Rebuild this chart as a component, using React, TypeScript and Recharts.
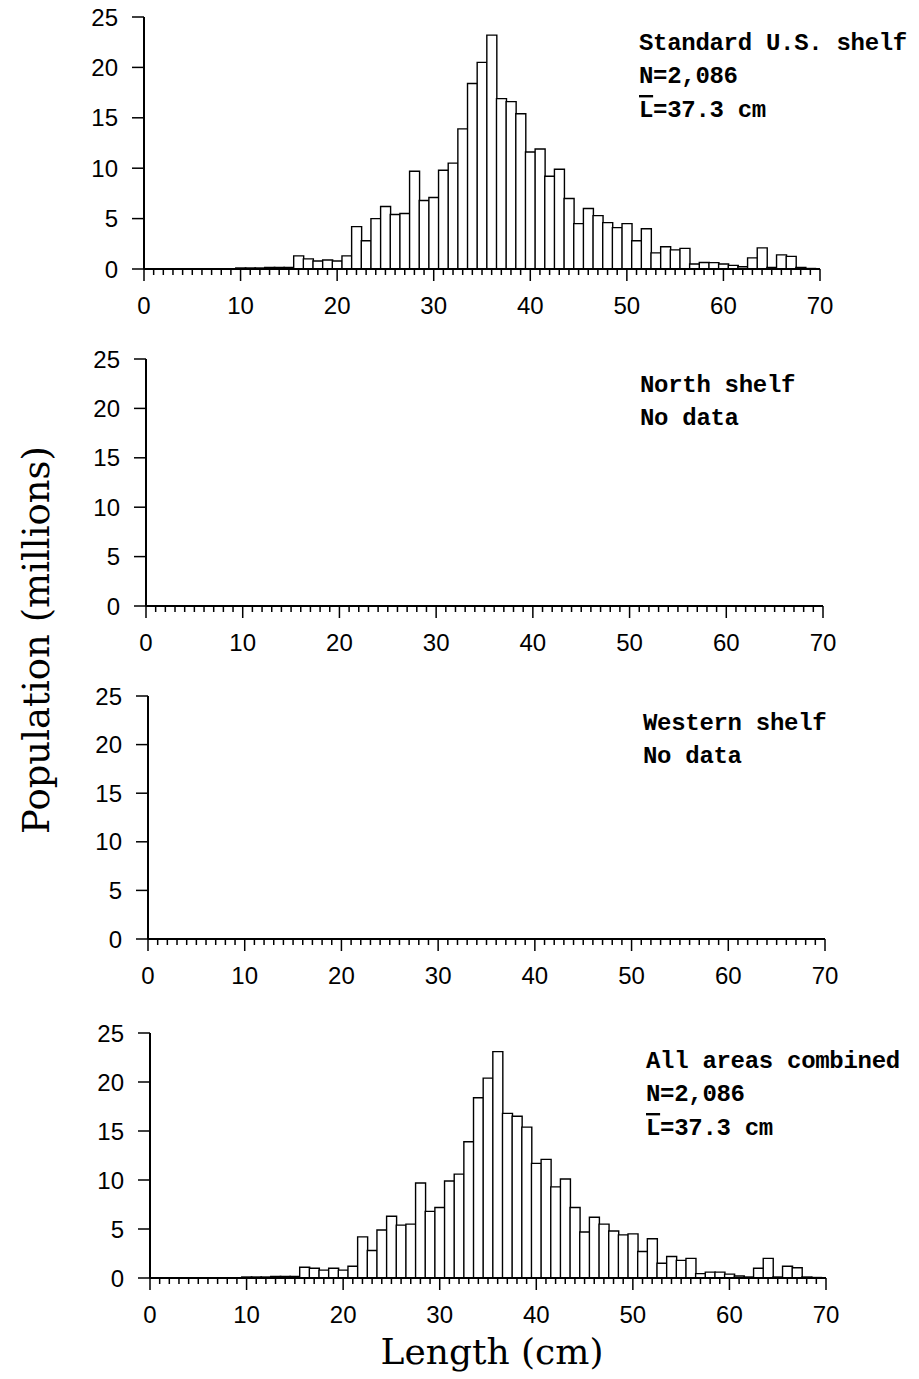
import { Bar, BarChart, XAxis, YAxis } from "recharts";

// 1-cm length bins (bin centre in cm)
const lengthBins = Array.from({ length: 70 }, (_, i) => i);
const lengthTicks = Array.from({ length: 71 }, (_, i) => i);
const populationTicks = [0, 5, 10, 15, 20, 25];

// population (millions) per 1-cm bin, 0..69 cm
const standardShelf = [
  0, 0, 0, 0, 0, 0, 0, 0, 0, 0,
  0.1, 0.1, 0.1, 0.15, 0.15, 0.15, 1.3, 1.0, 0.8, 0.9,
  0.8, 1.3, 4.2, 2.8, 5.0, 6.2, 5.4, 5.5, 9.7, 6.8,
  7.1, 9.8, 10.5, 13.9, 18.4, 20.5, 23.2, 16.9, 16.6, 15.4,
  11.6, 11.9, 9.2, 9.9, 7.0, 4.5, 6.0, 5.3, 4.6, 4.1,
  4.5, 2.8, 4.0, 1.6, 2.2, 1.9, 2.05, 0.5, 0.65, 0.63,
  0.5, 0.36, 0.23, 1.1, 2.1, 0.15, 1.4, 1.25, 0.15, 0.05,
];
const northShelf: number[] = [];
const westernShelf: number[] = [];
const allAreas = [
  0, 0, 0, 0, 0, 0, 0, 0, 0, 0,
  0.1, 0.1, 0.1, 0.15, 0.15, 0.15, 1.1, 1.0, 0.8, 1.0,
  0.8, 1.2, 4.2, 2.8, 4.9, 6.3, 5.4, 5.5, 9.7, 6.8,
  7.2, 9.9, 10.6, 13.9, 18.4, 20.4, 23.1, 16.8, 16.5, 15.4,
  11.7, 12.1, 9.3, 10.1, 7.2, 4.7, 6.2, 5.5, 4.8, 4.4,
  4.5, 2.7, 4.0, 1.5, 2.2, 1.8, 2.0, 0.45, 0.6, 0.6,
  0.4, 0.2, 0.1, 1.0, 2.0, 0.1, 1.2, 1.05, 0.1, 0.05,
];

const tickFont = "'Liberation Sans', Arial, sans-serif";
const noteFont = "'Liberation Mono', 'Courier New', monospace";
const titleFont = "'DejaVu Serif', serif";

function LengthTick(props: any) {
  const { x, y, payload } = props;
  const major = payload.value % 10 === 0;
  return (
    <g>
      <line x1={x} y1={y} x2={x} y2={y + (major ? 12 : 6)} stroke="#000" strokeWidth={1.5} />
      {major && (
        <text x={x} y={y + 45} textAnchor="middle" fontSize={24} fontFamily={tickFont} fill="#000">
          {payload.value}
        </text>
      )}
    </g>
  );
}

interface PanelProps {
  values: number[];
  left: number;
  right: number;
  top: number;
  bottom: number;
}

function Panel({ values, left, right, top, bottom }: PanelProps) {
  const data = lengthBins.map((l, i) => ({ length: l, value: values[i] ?? 0 }));
  const pad = 20;
  const axisH = 60;
  const yW = 70;
  return (
    <div style={{ position: "absolute", left: 0, top: top - pad, width: 919, height: bottom - top + pad + axisH }}>
      <BarChart
        width={919}
        height={bottom - top + pad + axisH}
        data={data}
        margin={{ top: pad, right: 919 - right, bottom: 0, left: left - yW }}
        barCategoryGap={0}
        barGap={0}
      >
        <XAxis
          dataKey="length"
          type="number"
          domain={[0, 70]}
          ticks={lengthTicks}
          interval={0}
          allowDataOverflow
          height={axisH}
          tickLine={false}
          tickSize={0}
          tickMargin={0}
          tick={<LengthTick />}
          axisLine={{ stroke: "#000", strokeWidth: 2 }}
        />
        <YAxis
          type="number"
          domain={[0, 25]}
          ticks={populationTicks}
          interval={0}
          width={yW}
          tickSize={12}
          tickMargin={14}
          tickLine={{ stroke: "#000", strokeWidth: 1.5 }}
          axisLine={{ stroke: "#000", strokeWidth: 2 }}
          tick={{ fill: "#000", fontSize: 24, fontFamily: tickFont }}
        />
        <Bar dataKey="value" fill="#fff" stroke="#000" strokeWidth={1.4} isAnimationActive={false} />
      </BarChart>
    </div>
  );
}

function Note({ x, y, lines }: { x: number; y: number; lines: string[] }) {
  return (
    <text x={x} y={y} fontFamily={noteFont} fontWeight="bold" fontSize={24} letterSpacing={-0.3} fill="#000">
      {lines.map((line, i) => {
        if (line.startsWith("L=")) {
          return (
            <tspan key={i} x={x} dy={i === 0 ? 0 : 34}>
              <tspan style={{ textDecoration: "overline" }}>L</tspan>
              {line.slice(1)}
            </tspan>
          );
        }
        return (
          <tspan key={i} x={x} dy={i === 0 ? 0 : 33}>
            {line}
          </tspan>
        );
      })}
    </text>
  );
}

export default function App() {
  return (
    <div style={{ position: "absolute", left: 0, top: 0, width: 919, height: 1379, background: "#fff" }}>
      <Panel values={standardShelf} left={144} right={820} top={17} bottom={269} />
      <Panel values={northShelf} left={146} right={823} top={359} bottom={606} />
      <Panel values={westernShelf} left={148} right={825} top={696} bottom={939} />
      <Panel values={allAreas} left={150} right={826} top={1033} bottom={1278} />
      <svg width={919} height={1379} style={{ position: "absolute", left: 0, top: 0, pointerEvents: "none" }}>
        <Note x={639} y={50} lines={["Standard U.S. shelf", "N=2,086", "L=37.3 cm"]} />
        <Note x={640} y={392} lines={["North shelf", "No data"]} />
        <Note x={643} y={730} lines={["Western shelf", "No data"]} />
        <Note x={646} y={1068} lines={["All areas combined", "N=2,086", "L=37.3 cm"]} />
        <text
          transform="translate(49, 640) rotate(-90)"
          textAnchor="middle"
          fontFamily={titleFont}
          fontSize={37}
          fill="#000"
        >
          Population (millions)
        </text>
        <text x={492} y={1364} textAnchor="middle" fontFamily={titleFont} fontSize={36} fill="#000">
          Length (cm)
        </text>
      </svg>
    </div>
  );
}
